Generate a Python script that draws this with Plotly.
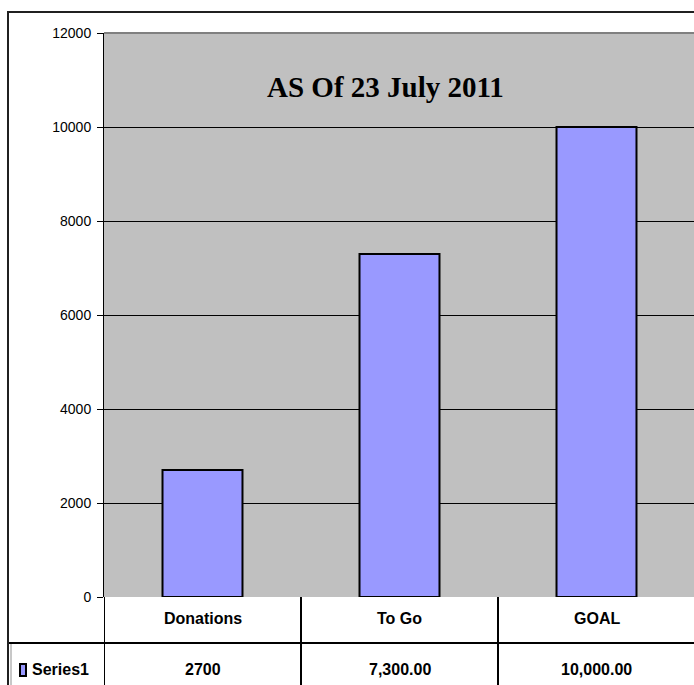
import plotly.graph_objects as go

categories = ["Donations", "To Go", "GOAL"]
values = [2700, 7300, 10000]
value_labels = ["2700", "7,300.00", "10,000.00"]
series_name = "Series1"
y_ticks = [0, 2000, 4000, 6000, 8000, 10000, 12000]
y_tick_labels = ["0", "2000", "4000", "6000", "8000", "10000", "12000"]
title_text = "AS Of 23 July 2011"

W, H = 694, 685
L, R, T, B = 104, 0, 33, 88
pw = W - L - R
ph = H - T - B
col_px = 197.0

def px(x):
    return (x - L) / pw

def py(y):
    return (H - B - y) / ph

xpos = list(range(len(categories)))
x_max = -0.5 + pw / col_px

fig = go.Figure()
fig.add_trace(go.Bar(
    x=xpos, y=values, name=series_name, width=0.406,
    marker=dict(color="#9999FF", line=dict(color="black", width=2)),
    showlegend=False,
))

font_sans = "Liberation Sans, Arial, sans-serif"

shapes = []
annotations = []
# gray top edge of plot area
shapes.append(dict(type="line", xref="paper", yref="paper", x0=0, x1=1.01, y0=1, y1=1,
                   line=dict(color="#808080", width=2)))
# outer chart border
shapes.append(dict(type="rect", xref="paper", yref="paper", x0=px(8), x1=px(W + 5),
                   y0=py(H + 5), y1=py(12), line=dict(color="#202020", width=2)))
shapes.append(dict(type="line", xref="paper", yref="paper", x0=px(11), x1=px(11),
                   y0=py(643), y1=py(H + 2), line=dict(color="#909090", width=1)))
# data table lines
shapes.append(dict(type="line", xref="paper", yref="paper", x0=px(9), x1=px(W + 2),
                   y0=py(643), y1=py(643), line=dict(color="black", width=2)))
for i in range(len(categories) + 1):
    shapes.append(dict(type="line", xref="x", yref="paper", x0=i - 0.5, x1=i - 0.5,
                       y0=py(597), y1=py(H + 2), line=dict(color="black", width=2)))
for i, (c, v) in enumerate(zip(categories, value_labels)):
    annotations.append(dict(x=i, xref="x", y=py(619), yref="paper", yanchor="middle",
                            text="<b>%s</b>" % c, showarrow=False,
                            font=dict(family=font_sans, size=16, color="black")))
    annotations.append(dict(x=i, xref="x", y=py(669.5), yref="paper", yanchor="middle",
                            text="<b>%s</b>" % v, showarrow=False,
                            font=dict(family=font_sans, size=16, color="black")))
# legend key
shapes.append(dict(type="rect", xref="paper", yref="paper", x0=px(20), x1=px(26),
                   y0=py(676), y1=py(664), fillcolor="#9999FF", line=dict(color="black", width=2)))
annotations.append(dict(x=px(30), xref="paper", y=py(669.5), yref="paper", xanchor="left",
                        yanchor="middle", text="<b>%s</b>" % series_name, showarrow=False,
                        font=dict(family=font_sans, size=16, color="black")))
# title
annotations.append(dict(x=px(385.5), xref="paper", y=py(87), yref="paper", yanchor="middle",
                        text="<b>%s</b>" % title_text, showarrow=False,
                        font=dict(family="Liberation Serif, Times New Roman, serif", size=29, color="black")))

fig.update_layout(
    width=W, height=H,
    margin=dict(l=L, r=R, t=T, b=B, pad=0),
    paper_bgcolor="white", plot_bgcolor="#C0C0C0",
    shapes=shapes, annotations=annotations,
)
fig.update_xaxes(range=[-0.5, x_max], showticklabels=False, showgrid=False,
                 zeroline=False, showline=False, ticks="")
fig.update_yaxes(range=[0, 12000], tickvals=y_ticks, ticktext=y_tick_labels,
                 showgrid=True, gridcolor="black", gridwidth=1,
                 zeroline=False, showline=True, linecolor="black", linewidth=1,
                 ticks="outside", ticklen=6, tickcolor="black",
                 tickfont=dict(family=font_sans, size=14, color="black"), ticklabelstandoff=3)
fig.write_html("out.html", config={"displayModeBar": False},
               post_script="document.body.style.margin='0';")
